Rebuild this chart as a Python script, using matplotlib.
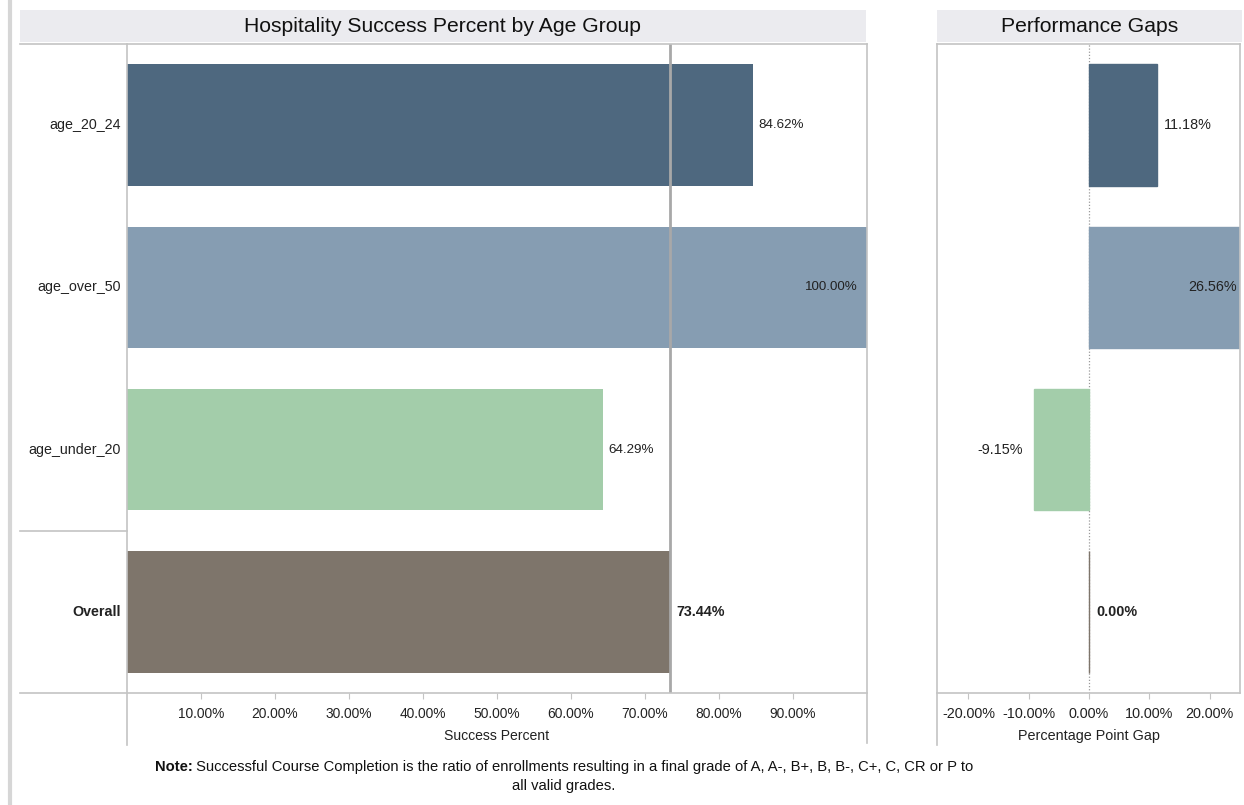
import matplotlib
matplotlib.use("Agg")
import matplotlib.pyplot as plt
from matplotlib.ticker import FuncFormatter, FixedLocator
from matplotlib.lines import Line2D
from matplotlib.patches import Rectangle

plt.rcParams['font.family'] = ['Liberation Sans', 'DejaVu Sans']

categories = ["age_20_24", "age_over_50", "age_under_20", "Overall"]
success_pct = [84.62, 100.00, 64.29, 73.44]
gap_pct = [11.18, 26.56, -9.15, 0.00]
colors = ["#4e687f", "#869db2", "#a3cdaa", "#7e756b"]
left_ticks = [10, 20, 30, 40, 50, 60, 70, 80, 90]
right_ticks = [-20, -10, 0, 10, 20]
overall_value = success_pct[-1]

W, H = 1244, 805
fig = plt.figure(figsize=(W / 100, H / 100), dpi=100)
fig.patch.set_facecolor("white")

def fx(px):
    return px / W

def fy(py):
    return 1 - py / H

GRID = "#c4c4c4"
TXT = "#222222"

def fline(x0, y0, x1, y1, color=GRID, lw=1.2, **kw):
    fig.add_artist(Line2D([fx(x0), fx(x1)], [fy(y0), fy(y1)], color=color, lw=lw,
                          transform=fig.transFigure, **kw))

# screenshot edge artifact
fline(10, 0, 10, 805, color="#d6d6d6", lw=3)

# header bands
for (x0, x1, title) in [(20, 866, "Hospitality Success Percent by Age Group"),
                        (937, 1242, "Performance Gaps")]:
    fig.add_artist(Rectangle((fx(x0), fy(42)), fx(x1) - fx(x0), fy(10) - fy(42),
                             transform=fig.transFigure, facecolor="#ebebef", edgecolor="none"))
    fig.text((fx(x0) + fx(x1)) / 2, fy(27), title, ha="center", va="center",
             fontsize=15.2, color="#111111")

# axes
axL = fig.add_axes([fx(127), fy(693), fx(867) - fx(127), fy(44) - fy(693)])
axR = fig.add_axes([fx(937), fy(693), fx(1240) - fx(937), fy(44) - fy(693)])

ypos = list(range(len(categories)))
bar_h = 0.75

# left panel bars
axL.barh(ypos, success_pct, height=bar_h, color=colors, edgecolor="none", zorder=2)
axL.axvline(overall_value, color="#a8a8a8", lw=2, zorder=3)
axL.set_xlim(0, 100)
axL.set_ylim(len(categories) - 0.5, -0.5)
axL.set_yticks([])
axL.xaxis.set_major_locator(FixedLocator(left_ticks))
axL.xaxis.set_major_formatter(FuncFormatter(lambda v, p: f"{v:.2f}%"))
axL.tick_params(axis="x", length=4, color=GRID, labelsize=9.9, labelcolor=TXT, pad=6)
axL.set_xlabel("Success Percent", fontsize=10.1, color=TXT, labelpad=6)
for s in axL.spines.values():
    s.set_visible(False)

for i, (v, c) in enumerate(zip(success_pct, categories)):
    isb = c == "Overall"
    bold = "bold" if isb else "normal"
    fs = 10.3 if isb else 9.6
    lab = f"{v:.2f}%"
    if v >= 95:
        axL.annotate(lab, (v, i), xytext=(-7, 0), textcoords="offset points",
                     ha="right", va="center", fontsize=fs, fontweight=bold, color=TXT)
    else:
        axL.annotate(lab, (v, i), xytext=(4, 0), textcoords="offset points",
                     ha="left", va="center", fontsize=fs, fontweight=bold, color=TXT)
    axL.text(-0.008, i, c, transform=axL.get_yaxis_transform(), ha="right", va="center",
             fontsize=10.3, fontweight=bold, color=TXT)

# right panel bars
axR.barh(ypos, gap_pct, height=bar_h, color=colors, edgecolor=colors, lw=1, zorder=2)
axR.axvline(0, color="#9a9a9a", lw=0.9, ls=(0, (1, 1.5)), zorder=1)
axR.set_xlim(-25.2, 25.0)
axR.set_ylim(len(categories) - 0.5, -0.5)
axR.set_yticks([])
axR.xaxis.set_major_locator(FixedLocator(right_ticks))
axR.xaxis.set_major_formatter(FuncFormatter(lambda v, p: f"{v:.2f}%"))
axR.tick_params(axis="x", length=4, color=GRID, labelsize=10.4, labelcolor=TXT, pad=6)
axR.set_xlabel("Percentage Point Gap", fontsize=10.4, color=TXT, labelpad=6)
for s in axR.spines.values():
    s.set_visible(False)

xmax = axR.get_xlim()[1]
for i, (g, c) in enumerate(zip(gap_pct, categories)):
    bold = "bold" if c == "Overall" else "normal"
    lab = f"{g:.2f}%"
    if g > xmax:
        axR.annotate(lab, (xmax, i), xytext=(-2, 0), textcoords="offset points",
                     ha="right", va="center", fontsize=10.4, fontweight=bold, color=TXT)
    elif g < 0:
        axR.annotate(lab, (g, i), xytext=(-8, 0), textcoords="offset points",
                     ha="right", va="center", fontsize=10.4, fontweight=bold, color=TXT)
    else:
        axR.annotate(lab, (g, i), xytext=(5, 0), textcoords="offset points",
                     ha="left", va="center", fontsize=10.4, fontweight=bold, color=TXT)

# frame lines (figure pixel coords)
fline(20, 44, 867, 44)
fline(20, 693, 867, 693)
fline(127, 44, 127, 745)
fline(867, 44, 867, 743)
fline(20, 531, 127, 531)
fline(937, 44, 1240, 44)
fline(937, 693, 1240, 693)
fline(937, 44, 937, 745)
fline(1240, 44, 1240, 693)

# note
renderer = fig.canvas.get_renderer()
NFS = 10.6
t1 = fig.text(0, fy(767), "Note:", fontsize=NFS, fontweight="bold", va="center", color="#111111")
t2 = fig.text(0, fy(767), " Successful Course Completion is the ratio of enrollments resulting in a final grade of A, A-, B+, B, B-, C+, C, CR or P to",
              fontsize=NFS, va="center", color="#111111")
w1 = t1.get_window_extent(renderer).width
w2 = t2.get_window_extent(renderer).width
cx = 564
start = cx - (w1 + w2) / 2
t1.set_x(fx(start))
t2.set_x(fx(start + w1))
fig.text(fx(cx), fy(786), "all valid grades.", fontsize=NFS, ha="center", va="center", color="#111111")

fig.savefig("out.png", dpi=100, facecolor="white")
